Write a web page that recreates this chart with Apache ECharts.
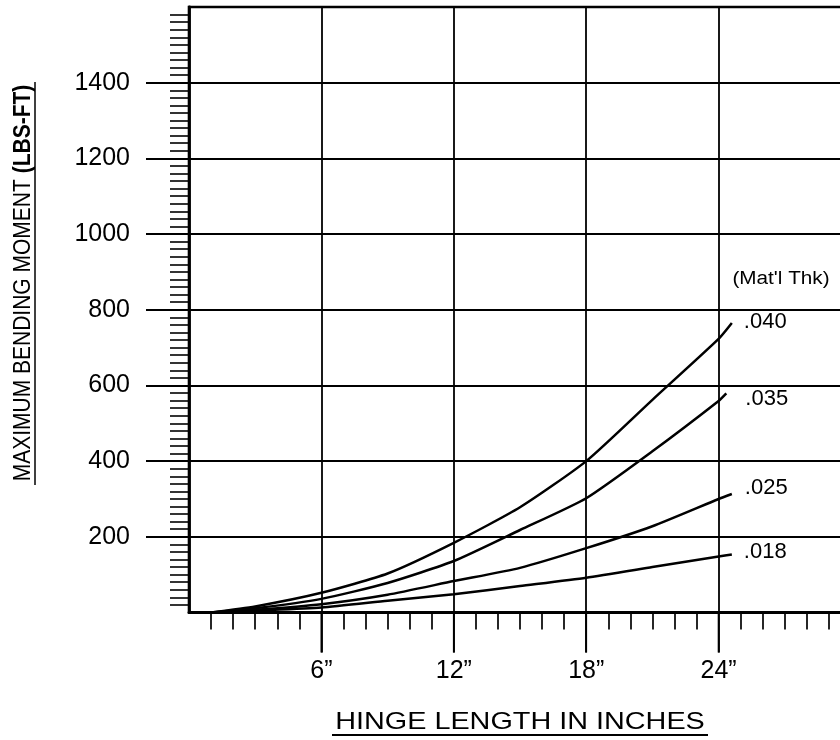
<!DOCTYPE html>
<html>
<head>
<meta charset="utf-8">
<script src="https://cdn.jsdelivr.net/npm/echarts@6/dist/echarts.min.js"></script>
<style>
  html, body { margin: 0; padding: 0; background: #fff; }
  #chart { width: 840px; height: 740px; }
</style>
</head>
<body>
<div id="chart"></div>
<script>
// ---- data ----
const xTickValues = [6, 12, 18, 24];
const yTickValues = [200, 400, 600, 800, 1000, 1200, 1400];
const seriesNames = ['.040', '.035', '.025', '.018'];

const len040 = [1, 3, 6, 9, 12, 15, 18, 21, 24, 24.6];
const mom040 = [0, 16, 52, 103, 184, 278, 400, 562, 723, 765];

const len035 = [1, 3, 6, 9, 12, 15, 18, 21, 24, 24.35];
const mom035 = [0, 11, 36, 78, 136, 218, 302, 426, 559, 579];

const len025 = [1, 3, 6, 9, 12, 15, 18, 21, 24, 24.6];
const mom025 = [0, 7, 22, 47, 83, 118, 170, 228, 300, 313];

const len018 = [1, 3, 6, 9, 12, 15, 18, 21, 24, 24.6];
const mom018 = [0, 5, 13, 31, 48, 70, 92, 120, 148, 153];

const yTitleMain = 'MAXIMUM BENDING MOMENT ';
const yTitleUnit = '(LBS-FT)';
const xTitle = 'HINGE LENGTH IN INCHES';
const legendTitle = "(Mat'l Thk)";

// ---- build ----
const FONT = 'Liberation Sans, Arial, Helvetica, sans-serif';
function pairs(xs, ys) { return xs.map((x, i) => [x, ys[i]]); }

const seriesData = [pairs(len040, mom040), pairs(len035, mom035), pairs(len025, mom025), pairs(len018, mom018)];
const labelDistance = [12, 19, 13, 12];
const labelOffset = [[0, -1], [0, 6], [0, -6], [0, -3]];

const chart = echarts.init(document.getElementById('chart'), null, { renderer: 'canvas' });

const baseGraphic = [
  {
    type: 'text',
    x: 24, y: 283,
    rotation: Math.PI / 2,
    scaleY: 1.12,
    style: {
      text: '{n|' + yTitleMain + '}{b|' + yTitleUnit + '}',
      align: 'center', verticalAlign: 'middle',
      fill: '#000',
      rich: {
        n: { fontSize: 21, fontFamily: FONT, fill: '#000' },
        b: { fontSize: 21, fontFamily: FONT, fontWeight: 'bold', fill: '#000' }
      }
    }
  },
  { type: 'line', shape: { x1: 35, y1: 82, x2: 35, y2: 485 }, style: { stroke: '#000', lineWidth: 1.5 } },
  {
    type: 'text',
    x: 520, y: 722,
    scaleX: 1.2,
    style: {
      text: xTitle, align: 'center', verticalAlign: 'middle',
      fontSize: 24, fontFamily: FONT, fill: '#000'
    }
  },
  { type: 'line', shape: { x1: 332, y1: 735, x2: 708, y2: 735 }, style: { stroke: '#000', lineWidth: 1.8 } },
  {
    type: 'text',
    x: 781, y: 279,
    scaleX: 1.15,
    style: {
      text: legendTitle, align: 'center', verticalAlign: 'middle',
      fontSize: 18, fontFamily: FONT, fill: '#000'
    }
  }
];

chart.setOption({
  backgroundColor: '#ffffff',
  animation: false,
  grid: {
    left: 189, top: 7, width: 662, height: 605.5,
    containLabel: false,
    outerBoundsMode: 'none',
    show: true, borderColor: '#000', borderWidth: 2.6, backgroundColor: 'transparent'
  },
  xAxis: {
    type: 'value', min: 0, max: 30, interval: 6,
    axisLine: { show: true, onZero: false, lineStyle: { color: '#000', width: 2.8 } },
    axisTick: { show: true, inside: false, length: 40, customValues: xTickValues, lineStyle: { color: '#000', width: 1.8 } },
    minorTick: { show: true, splitNumber: 6, length: 17, lineStyle: { color: '#000', width: 1.7 } },
    axisLabel: {
      show: true, customValues: xTickValues, margin: 46, verticalAlign: 'top',
      fontSize: 25, fontFamily: FONT, color: '#000',
      formatter: v => String(v) + '\u201D'
    },
    splitLine: { show: true, lineStyle: { color: '#000', width: 1.8 } },
    minorSplitLine: { show: false }
  },
  yAxis: {
    type: 'value', min: 0, max: 1600, interval: 200,
    axisLine: { show: true, onZero: false, lineStyle: { color: '#000', width: 2.8 } },
    axisTick: { show: true, inside: false, length: 43, customValues: yTickValues, lineStyle: { color: '#000', width: 1.8 } },
    minorTick: { show: true, splitNumber: 10, length: 19, lineStyle: { color: '#000', width: 1.6 } },
    axisLabel: {
      show: true, customValues: yTickValues, margin: 59,
      fontSize: 25, fontFamily: FONT, color: '#000',
      formatter: v => String(v)
    },
    splitLine: { show: true, lineStyle: { color: '#000', width: 1.8 } },
    minorSplitLine: { show: false }
  },
  series: seriesNames.map((name, i) => ({
    name: name,
    type: 'line',
    data: seriesData[i],
    smooth: 0.2,
    showSymbol: false,
    symbol: 'none',
    lineStyle: { color: '#000', width: 2.5 },
    endLabel: {
      show: true,
      formatter: name,
      distance: labelDistance[i],
      offset: labelOffset[i],
      fontSize: 22,
      fontFamily: FONT,
      color: '#000'
    },
    emphasis: { disabled: true }
  })),
  graphic: baseGraphic
});

// long x-axis ticks below the axis at the labelled values, placed through the axis scale
const tickGraphic = xTickValues.map(v => {
  const p = chart.convertToPixel({ xAxisIndex: 0, yAxisIndex: 0 }, [v, 0]);
  return {
    type: 'line',
    shape: { x1: p[0], y1: p[1], x2: p[0], y2: p[1] + 40 },
    style: { stroke: '#000', lineWidth: 1.8 }
  };
});
chart.setOption({ graphic: baseGraphic.concat(tickGraphic) });
</script>
</body>
</html>
